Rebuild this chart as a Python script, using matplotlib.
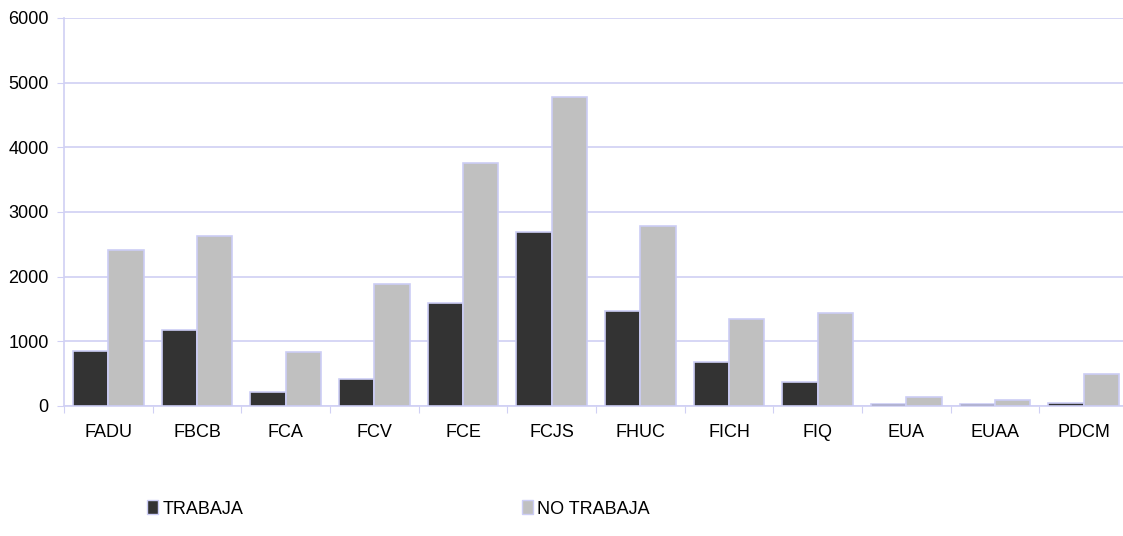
import matplotlib
matplotlib.use('Agg')
import matplotlib.pyplot as plt
import numpy as np
from matplotlib.patches import Patch

plt.rcParams['font.family'] = ['Liberation Sans', 'DejaVu Sans']

labels = ['FADU', 'FBCB', 'FCA', 'FCV', 'FCE', 'FCJS', 'FHUC', 'FICH', 'FIQ', 'EUA', 'EUAA', 'PDCM']
trabaja = [850, 1175, 215, 420, 1590, 2690, 1470, 680, 370, 30, 25, 50]
no_trabaja = [2410, 2630, 835, 1890, 3760, 4780, 2780, 1345, 1440, 140, 90, 490]

grid_col = '#d0d0f4'
edge_col = '#cccdf5'
colours = ['#333333', '#c0c0c0']

fig = plt.figure(figsize=(11.23, 5.36), dpi=100)
ax = fig.add_axes([64 / 1123, 130 / 536, 1064 / 1123, 388 / 536])

x = np.arange(len(labels))
width = 0.4
ax.bar(x - width / 2, trabaja, width, color=colours[0], edgecolor=edge_col, linewidth=1.2, zorder=3)
ax.bar(x + width / 2, no_trabaja, width, color=colours[1], edgecolor=edge_col, linewidth=1.2, zorder=3)

ax.set_xlim(-0.5, len(labels) - 0.5)
ax.set_ylim(0, 6000)
ax.set_yticks(np.arange(0, 6001, 1000))
ax.yaxis.grid(True, color=grid_col, linewidth=1.2, zorder=0)
ax.tick_params(axis='y', length=5, color=grid_col, labelsize=13, pad=6)

# category labels, tick marks between groups
ax.set_xticks(np.arange(-0.5, len(labels), 1))
ax.set_xticklabels([])
ax.set_xticks(x, minor=True)
ax.set_xticklabels(labels, minor=True, fontsize=13)
ax.tick_params(axis='x', which='major', length=5, color=grid_col)
ax.tick_params(axis='x', which='minor', length=0, pad=13)

for s in ['top', 'right']:
    ax.spines[s].set_visible(False)
for s in ['left', 'bottom']:
    ax.spines[s].set_color(grid_col)
    ax.spines[s].set_linewidth(1.2)

h1 = [Patch(facecolor=colours[0], edgecolor=edge_col, label='TRABAJA')]
h2 = [Patch(facecolor=colours[1], edgecolor=edge_col, label='NO TRABAJA')]
kw = dict(frameon=False, fontsize=13, handlelength=0.6, handleheight=0.8, handletextpad=0.25,
          loc='center left', borderaxespad=0, borderpad=0)
fig.legend(handles=h1, bbox_to_anchor=(147 / 1123, 1 - 509 / 536), **kw)
fig.legend(handles=h2, bbox_to_anchor=(522 / 1123, 1 - 509 / 536), **kw)

fig.savefig('out.png', dpi=100)
